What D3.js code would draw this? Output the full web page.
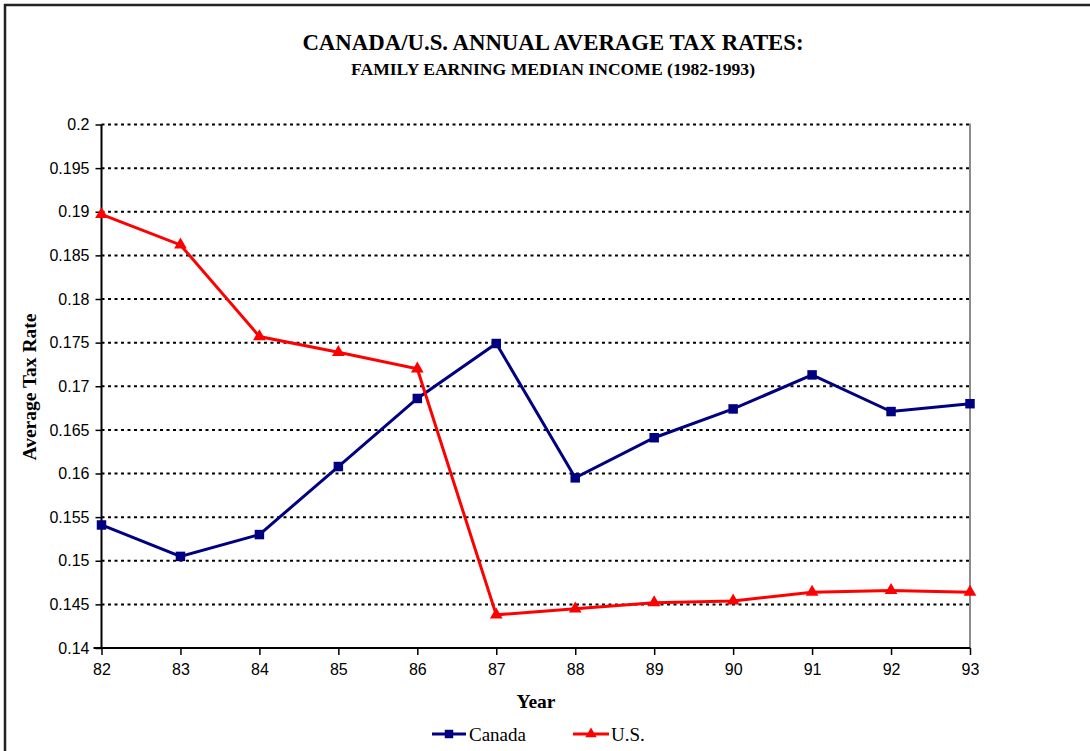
<!DOCTYPE html>
<html>
<head>
<meta charset="utf-8">
<script src="https://cdn.jsdelivr.net/npm/d3@7"></script>
<style>
  html, body { margin: 0; padding: 0; background: #fff; }
  svg { display: block; }
</style>
</head>
<body>
<svg id="chart" width="1090" height="751"></svg>
<script>
// Years shown on the category axis (two-digit form)
const years = ["82", "83", "84", "85", "86", "87", "88", "89", "90", "91", "92", "93"];
// Average tax rate for a family earning the median income
const canada = [0.1541, 0.1505, 0.1530, 0.1608, 0.1686, 0.1749, 0.1595, 0.1641, 0.1674, 0.1713, 0.1671, 0.1680];
const us     = [0.1897, 0.1862, 0.1757, 0.1739, 0.1720, 0.1438, 0.1445, 0.1452, 0.1454, 0.1464, 0.1466, 0.1464];
const yTicks = [0.14, 0.145, 0.15, 0.155, 0.16, 0.165, 0.17, 0.175, 0.18, 0.185, 0.19, 0.195, 0.2];

const svg = d3.select("#chart");
const serif = "'Liberation Serif', 'Times New Roman', serif";
const sans = "'Liberation Sans', Arial, sans-serif";

const plot = { left: 101.5, right: 970, top: 124.5, bottom: 648 };

const x = d3.scalePoint().domain(years).range([plot.left, plot.right]);
const y = d3.scaleLinear().domain([0.14, 0.2]).range([plot.bottom, plot.top]);

// Outer frame
svg.append("path")
  .attr("d", `M5,760 L5,5 L1095,5`)
  .attr("fill", "none").attr("stroke", "#222").attr("stroke-width", 2.5);

// Titles
svg.append("text")
  .attr("x", 553).attr("y", 50)
  .attr("text-anchor", "middle")
  .style("font-family", serif).style("font-weight", "bold").style("font-size", "22.8px")
  .text("CANADA/U.S. ANNUAL AVERAGE TAX RATES:");
svg.append("text")
  .attr("x", 553).attr("y", 75)
  .attr("text-anchor", "middle")
  .style("font-family", serif).style("font-weight", "bold").style("font-size", "17.6px")
  .text("FAMILY EARNING MEDIAN INCOME (1982-1993)");

// Dotted horizontal gridlines
svg.append("g")
  .selectAll("line")
  .data(yTicks.filter(d => d > 0.14))
  .join("line")
  .attr("x1", plot.left).attr("x2", plot.right)
  .attr("y1", d => y(d)).attr("y2", d => y(d))
  .attr("stroke", "#000").attr("stroke-width", 2)
  .attr("stroke-dasharray", "3,3.5");

// Right edge of the plot area
svg.append("line")
  .attr("x1", plot.right).attr("x2", plot.right)
  .attr("y1", plot.top - 1).attr("y2", plot.bottom)
  .attr("stroke", "#666").attr("stroke-width", 1.5);

// Y axis
const yAxis = svg.append("g")
  .attr("transform", `translate(${plot.left},0)`)
  .call(d3.axisLeft(y).tickValues(yTicks).tickFormat(d => String(+d.toFixed(3))).tickSize(6).tickPadding(6));
yAxis.select(".domain").attr("stroke", "#000").attr("stroke-width", 2).attr("d", `M0,${plot.top}V${plot.bottom}`);
yAxis.selectAll(".tick line").attr("stroke", "#000").attr("stroke-width", 1.5);
yAxis.selectAll(".tick text").style("font-family", sans).style("font-size", "16px").attr("fill", "#000");

// X axis
const xAxis = svg.append("g")
  .attr("transform", `translate(0,${plot.bottom})`)
  .call(d3.axisBottom(x).tickSize(7).tickPadding(9));
xAxis.select(".domain").attr("stroke", "#000").attr("stroke-width", 2).attr("d", `M${plot.left - 8},0H${plot.right}`);
xAxis.selectAll(".tick line").attr("stroke", "#000").attr("stroke-width", 1.5);
xAxis.selectAll(".tick text").style("font-family", sans).style("font-size", "16px").attr("fill", "#000");

// Axis titles
svg.append("text")
  .attr("x", 536).attr("y", 708)
  .attr("text-anchor", "middle")
  .style("font-family", serif).style("font-weight", "bold").style("font-size", "19.5px")
  .text("Year");
svg.append("text")
  .attr("transform", "translate(36,387) rotate(-90)")
  .attr("text-anchor", "middle")
  .style("font-family", serif).style("font-weight", "bold").style("font-size", "19.5px")
  .text("Average Tax Rate");

// Series
const series = [
  { name: "Canada", values: canada, color: "#000080", symbol: d3.symbolSquare, size: 90 },
  { name: "U.S.", values: us, color: "#FF0000", symbol: d3.symbolTriangle, size: 70 }
];

const line = d3.line().x((d, i) => x(years[i])).y(d => y(d));

series.forEach(s => {
  svg.append("path")
    .datum(s.values)
    .attr("d", line)
    .attr("fill", "none").attr("stroke", s.color).attr("stroke-width", 3)
    .attr("stroke-linejoin", "miter");
  svg.append("g")
    .selectAll("path")
    .data(s.values)
    .join("path")
    .attr("transform", (d, i) => `translate(${x(years[i])},${y(d)})`)
    .attr("d", d3.symbol().type(s.symbol).size(s.size))
    .attr("fill", s.color);
});

// Legend
const legendItems = [
  { s: series[0], x0: 432, x1: 466, tx: 469 },
  { s: series[1], x0: 573, x1: 609, tx: 611 }
];
const legend = svg.append("g");
legendItems.forEach(it => {
  const ly = 734;
  legend.append("line")
    .attr("x1", it.x0).attr("x2", it.x1).attr("y1", ly).attr("y2", ly)
    .attr("stroke", it.s.color).attr("stroke-width", 3);
  legend.append("path")
    .attr("transform", `translate(${(it.x0 + it.x1) / 2},${ly})`)
    .attr("d", d3.symbol().type(it.s.symbol).size(it.s.size * 0.8))
    .attr("fill", it.s.color);
  legend.append("text")
    .attr("x", it.tx).attr("y", ly + 7)
    .style("font-family", serif).style("font-size", "19px")
    .text(it.s.name);
});
</script>
</body>
</html>
